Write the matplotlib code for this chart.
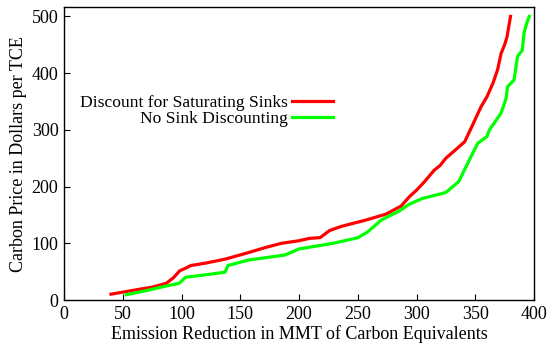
import matplotlib
matplotlib.use("Agg")
import matplotlib.pyplot as plt

# emission reduction (MMT) vs carbon price ($/TCE)
red_x = [40, 60, 75, 87, 93, 98.5, 104, 108, 120, 137, 155, 170, 185, 200, 209, 218, 226,
         236, 257, 274, 287, 294, 300, 307, 315, 320, 325, 335, 341, 346, 355, 360, 365,
         369, 372, 375, 377, 380]
red_y = [10.3, 17.5, 22.7, 29.4, 39, 51.5, 56.6, 60.8, 64.9, 72, 82.4, 91.7, 100, 104.5,
         108.7, 110, 122.5, 129.8, 141, 151.4, 165.8, 182.3, 193.6, 209, 228.7, 237, 250,
         268, 279, 300.8, 341, 358.4, 382, 406, 434.7, 450, 463.5, 500]

green_x = [53, 70, 87, 98, 103.5, 120, 137, 139.5, 157, 188, 200, 229, 250, 258, 265,
           270, 285, 294, 305, 325, 336, 345, 352, 360, 362, 372, 376, 377.5, 383, 386,
           390, 391.5, 394, 396]
green_y = [9.3, 16.5, 24.7, 29.4, 40.2, 44.3, 49, 60.8, 70.5, 79.3, 90, 100, 109.7, 119.5,
           131.8, 141, 156.6, 169, 179, 189.5, 209, 247, 276, 288.4, 299.7, 329.6, 353.3,
           376, 388, 429.5, 440, 470.7, 489, 500]

xticks = [0, 50, 100, 150, 200, 250, 300, 350, 400]
yticks = [0, 100, 200, 300, 400, 500]

plt.rcParams['font.family'] = ['Liberation Serif', 'DejaVu Serif']
plt.rcParams['font.size'] = 13

fig = plt.figure(figsize=(5.5, 3.47), dpi=100)
ax = fig.add_axes([0.1164, 0.1354, 0.8545, 0.8435])

ax.plot(red_x, red_y, color='#ff0000', lw=2.3, label='Discount for Saturating Sinks')
ax.plot(green_x, green_y, color='#00ff00', lw=2.3, label='No Sink Discounting')

ax.set_xlim(0, 400)
ax.set_ylim(0, 516)
ax.set_xticks(xticks)
ax.set_yticks(yticks)
ax.tick_params(direction='in', length=4, width=0.8, labelsize=13, pad=4)
for s in ax.spines.values():
    s.set_linewidth(1.0)

ax.set_xlabel('Emission Reduction in MMT of Carbon Equivalents', fontsize=13, labelpad=2)
ax.set_ylabel('Carbon Price in Dollars per TCE', fontsize=13, labelpad=3)

ax.legend(loc='center right', bbox_to_anchor=(0.59, 0.647), frameon=False,
          markerfirst=False, handlelength=2.3, handletextpad=0.25,
          labelspacing=0.0, fontsize=12.6, borderpad=0)

fig.savefig('out.png', dpi=100)
